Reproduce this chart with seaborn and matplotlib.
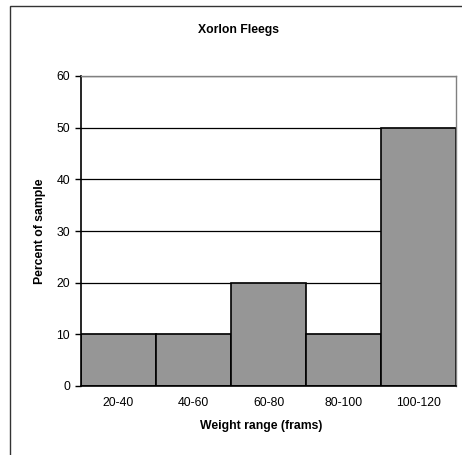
import matplotlib
matplotlib.use("Agg")
import matplotlib.pyplot as plt
import seaborn as sns
import pandas as pd
from matplotlib.patches import Rectangle

# Histogram of Xorlon Fleeg weights, by weight range
weight_ranges = ["20-40", "40-60", "60-80", "80-100", "100-120"]
percent_of_sample = [10, 10, 20, 10, 50]
y_ticks = [0, 10, 20, 30, 40, 50, 60]

df = pd.DataFrame({"range": weight_ranges, "percent": percent_of_sample})

sns.set_theme(style="white")
plt.rcParams["font.family"] = ["Liberation Sans", "DejaVu Sans"]
plt.rcParams["text.color"] = "black"
plt.rcParams["axes.labelcolor"] = "black"
plt.rcParams["xtick.color"] = "black"
plt.rcParams["ytick.color"] = "black"

FS = 8.8

fig = plt.figure(figsize=(4.62, 4.55), dpi=100)
ax = fig.add_axes([81 / 462, 1 - 386 / 455, 375 / 462, 310 / 455])

# Chart-area frame (open on the right and bottom edges)
fig.patches.append(Rectangle((9.5 / 462, -0.05), 1.2, 1 - 6.5 / 455 + 0.05,
                             transform=fig.transFigure, fill=False,
                             edgecolor="#333333", linewidth=1.0))

ax.set_axisbelow(True)
ax.yaxis.grid(True, color="black", linewidth=0.9)
sns.barplot(data=df, x="range", y="percent", order=weight_ranges,
            color="#969696", saturation=1, width=1.0,
            edgecolor="black", linewidth=1.2, ax=ax, zorder=2)

ax.set_ylim(0, 60)
ax.set_xlim(-0.5, len(weight_ranges) - 0.5)
ax.set_yticks(y_ticks)
ax.set_yticklabels([str(v) for v in y_ticks], fontsize=FS)
ax.set_xticklabels(weight_ranges, fontsize=FS)

ax.set_xticks([i - 0.5 for i in range(len(weight_ranges) + 1)], minor=True)
ax.tick_params(axis="x", which="major", length=0, pad=8)
ax.tick_params(axis="x", which="minor", length=4, width=1, color="black", direction="out")
ax.tick_params(axis="y", length=4, width=1, color="black", direction="out", left=True, pad=4)

for side in ["left", "bottom"]:
    ax.spines[side].set_color("black")
    ax.spines[side].set_linewidth(1.2)
for side in ["top", "right"]:
    ax.spines[side].set_color("#808080")
    ax.spines[side].set_linewidth(1.0)

ax.set_xlabel("Weight range (frams)", fontsize=FS, fontweight="bold")
ax.xaxis.set_label_coords((261 - 81) / 375, -(426 - 386) / 310)
ax.xaxis.label.set_va("center")
ax.set_ylabel("Percent of sample", fontsize=FS, fontweight="bold")
ax.yaxis.set_label_coords(-(81 - 40) / 375, 0.5)
ax.yaxis.label.set_va("center")
fig.text(238 / 462, 1 - 30 / 455, "Xorlon Fleegs",
         ha="center", va="center", fontsize=FS, fontweight="bold")

fig.savefig("out.png", dpi=100, facecolor="white")
